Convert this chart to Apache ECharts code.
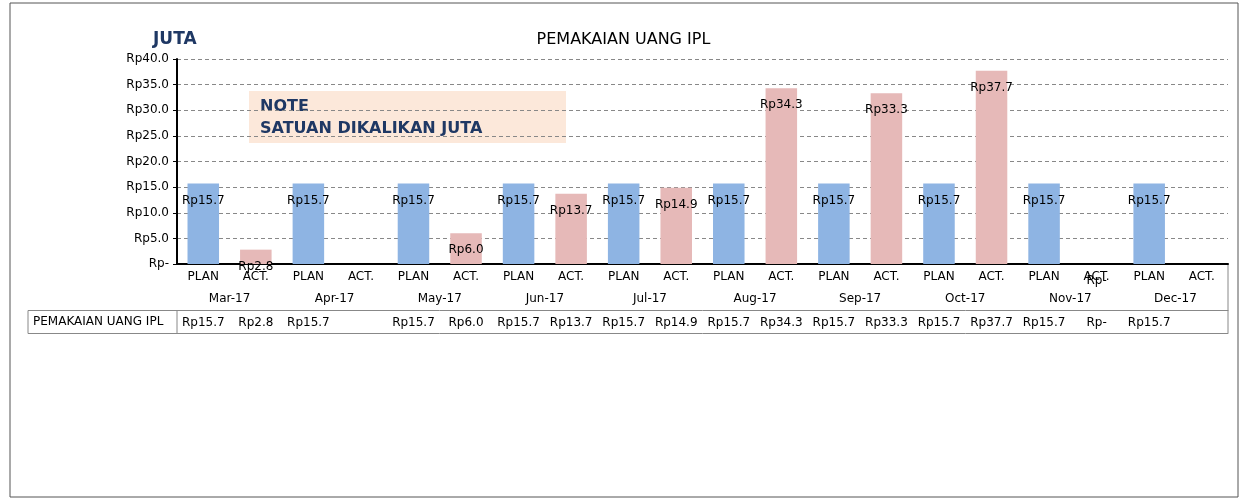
<!DOCTYPE html><html><head><meta charset="utf-8">
<script src="https://cdn.jsdelivr.net/npm/echarts@6/dist/echarts.min.js"></script>
<style>body{margin:0}#c{width:1247px;height:504px}</style></head><body><div id="c"></div>
<script>
const months = ['Mar-17','Apr-17','May-17','Jun-17','Jul-17','Aug-17','Sep-17','Oct-17','Nov-17','Dec-17'];
const subCats = ['PLAN','ACT.'];
const planValues = [15.7,15.7,15.7,15.7,15.7,15.7,15.7,15.7,15.7,15.7];
const actValues = [2.8,null,6.0,13.7,14.9,34.3,33.3,37.7,0,null];
const yTicks = [0,5,10,15,20,25,30,35,40];

const cats=[], vals=[], cols=[];
months.forEach((m,i)=>{cats.push('PLAN');vals.push(planValues[i]);cols.push('#8eb4e3');
  cats.push('ACT.');vals.push(actValues[i]);cols.push('#e6b9b8');});
const fmt=v=>v==null?'':(v===0?'Rp-':'Rp'+v.toFixed(1));
const tableLabels=vals.map(fmt);
const ff='DejaVu Sans';
const grid={left:177,right:19,top:59,bottom:240};
const chart=echarts.init(document.getElementById('c'));
chart.setOption({
  animation:false,
  textStyle:{fontFamily:ff},
  title:{text:'PEMAKAIAN UANG IPL',left:'center',top:27,textStyle:{fontWeight:'normal',fontSize:16,color:'#000',fontFamily:ff}},
  grid:grid,
  graphic:[
    {type:'rect',shape:{x:10,y:3,width:1228,height:494},style:{fill:'none',stroke:'#555',lineWidth:1}},
    {type:'text',left:153,top:31,style:{text:'JUTA',fontSize:17,fontWeight:'bold',fill:'#1f3864',fontFamily:ff}},
    {type:'rect',shape:{x:249,y:91,width:317,height:52},style:{fill:'#fce8da'}},
    {type:'text',left:260,top:96,style:{text:'NOTE\nSATUAN DIKALIKAN JUTA',fontSize:16,fontWeight:'bold',fill:'#1f3864',lineHeight:22,fontFamily:ff}},
    {type:'rect',shape:{x:28,y:310.5,width:149,height:23},style:{fill:'none',stroke:'#888',lineWidth:1}},
    {type:'text',left:33,top:316,style:{text:'PEMAKAIAN UANG IPL',fontSize:12,fill:'#000',fontFamily:ff}},
    {type:'line',shape:{x1:1228,y1:264,x2:1228,y2:333},style:{stroke:'#888',lineWidth:1}}
  ],
  xAxis:[
    {type:'category',data:cats,position:'bottom',axisLine:{lineStyle:{color:'#000',width:2}},
     axisTick:{length:22,lineStyle:{color:'#888'}},axisLabel:{color:'#000',fontSize:12,margin:7}},
    {type:'category',data:months,position:'bottom',axisLine:{show:false},
     axisTick:{length:46,lineStyle:{color:'#888'}},axisLabel:{color:'#000',fontSize:12,margin:29}},
    {type:'category',data:tableLabels,position:'bottom',offset:46,axisLine:{lineStyle:{color:'#888'}},
     axisTick:{length:23,lineStyle:{color:'#888'}},axisLabel:{color:'#000',fontSize:12,margin:7,interval:0}},
    {type:'category',data:cats,position:'bottom',offset:69,axisLine:{lineStyle:{color:'#888'}},
     axisTick:{show:false},axisLabel:{show:false}}
  ],
  yAxis:{type:'value',min:0,max:40,interval:5,
    axisLine:{show:true,lineStyle:{color:'#000',width:2}},axisTick:{show:true,length:4,lineStyle:{color:'#000'}},
    axisLabel:{color:'#000',fontSize:12,formatter:v=>yTicks.includes(v)?(v===0?'Rp-':'Rp'+v.toFixed(1)):''},
    splitLine:{lineStyle:{color:'#888',type:[4,3]}}},
  series:[{type:'bar',xAxisIndex:0,barWidth:'60%',
    data:vals.map((v,i)=>({value:v,itemStyle:{color:cols[i]}})),
    label:{show:true,position:'insideTop',distance:11,color:'#000',fontSize:12,
      formatter:p=>fmt(p.value)}}]
});
</script></body></html>
